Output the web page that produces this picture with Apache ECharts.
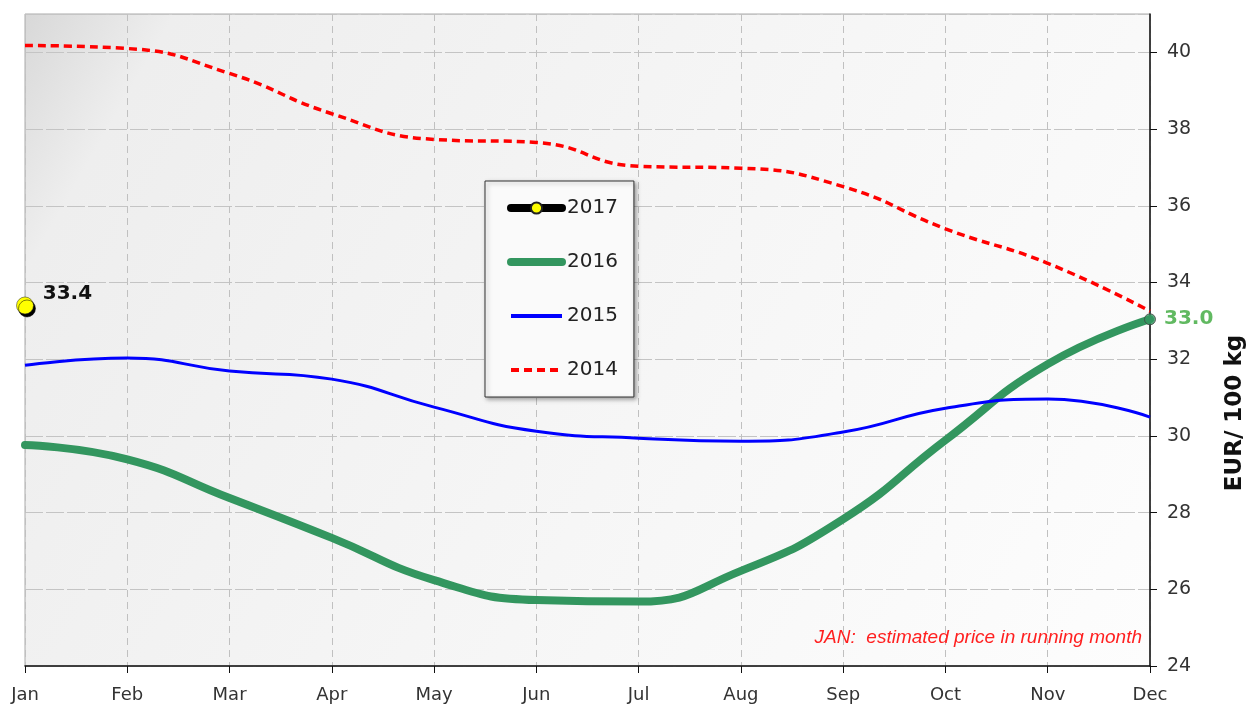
<!DOCTYPE html>
<html>
<head>
<meta charset="utf-8">
<script src="https://cdn.jsdelivr.net/npm/echarts@6/dist/echarts.min.js"></script>
<style>
  html, body { margin: 0; padding: 0; background: #fff; }
  #chart { width: 1249px; height: 706px; }
</style>
</head>
<body>
<div id="chart"></div>
<script>
// month categories
const months = ['Jan', 'Feb', 'Mar', 'Apr', 'May', 'Jun', 'Jul', 'Aug', 'Sep', 'Oct', 'Nov', 'Dec']
// prices, EUR / 100 kg
const y2017 = [33.4]
const y2016 = [29.76, 29.39, 28.38, 27.34, 26.24, 25.72, 25.68, 26.48, 27.83, 29.89, 31.87, 33.04]
const y2015 = [31.84, 32.03, 31.69, 31.48, 30.75, 30.12, 29.94, 29.86, 30.1, 30.72, 30.96, 30.49]
const y2014 = [40.18, 40.1, 39.45, 38.4, 37.73, 37.65, 37.03, 36.98, 36.5, 35.4, 34.5, 33.25]
const lastLabel = '33.0'

const myChart = echarts.init(document.getElementById('chart'))
const font = 'DejaVu Sans'
const option = {
  animation: false,
  title: {
    text: 'JAN:  estimated price in running month',
    right: 102,
    top: 623,
    textStyle: {
      color: '#ff2020',
      fontStyle: 'italic',
      fontWeight: 'normal',
      fontFamily: 'Liberation Sans',
      fontSize: 19,
    },
  },
  graphic: [
    {
      type: 'text',
      x: 1235,
      y: 413,
      rotation: Math.PI / 2,
      style: {
        text: 'EUR/ 100 kg',
        fill: '#111',
        font: 'bold 23px "DejaVu Sans"',
        align: 'center',
        verticalAlign: 'middle',
      },
    },
  ],
  legend: {
    data: [
      { name: '2017', lineStyle: { width: 8 } },
      { name: '2016', lineStyle: { width: 8 }, itemStyle: { opacity: 0 } },
      { name: '2015', lineStyle: { width: 4 }, itemStyle: { opacity: 0 } },
      { name: '2014', lineStyle: { width: 4 }, itemStyle: { opacity: 0 } },
    ],
    orient: 'vertical',
    left: 485,
    top: 181,
    padding: [17, 16, 17, 22],
    itemWidth: 51,
    itemHeight: 14,
    itemGap: 34,
    backgroundColor: '#fafafa',
    borderColor: '#333',
    borderWidth: 1,
    shadowColor: 'rgba(0,0,0,0.35)',
    shadowBlur: 4,
    shadowOffsetX: 2,
    shadowOffsetY: 2,
    textStyle: {
      color: '#222',
      fontFamily: font,
      fontSize: 20,
    },
  },
  grid: {
    left: 25,
    right: 99,
    top: 14,
    bottom: 40,
    outerBoundsMode: 'none',
    containLabel: false,
    show: true,
    borderColor: '#aaa',
    borderWidth: 1,
    backgroundColor: {
      type: 'linear',
      x: 0, y: 0, x2: 1, y2: 1,
      colorStops: [
        { offset: 0, color: '#d8d8d8' },
        { offset: 0.1, color: '#eeeeee' },
        { offset: 0.5, color: '#f5f5f5' },
        { offset: 1, color: '#fdfdfd' },
      ],
    },
  },
  xAxis: {
    type: 'category',
    boundaryGap: false,
    data: months,
    axisLine: { lineStyle: { color: '#111', width: 1.5 } },
    axisTick: { show: true, length: 7, lineStyle: { color: '#111' } },
    axisLabel: {
      color: '#333',
      fontFamily: font,
      fontSize: 18,
      margin: 20,
    },
    splitLine: {
      show: true,
      lineStyle: { color: '#c0c0c0', type: [7, 5] },
    },
  },
  yAxis: {
    type: 'value',
    position: 'right',
    min: 24,
    max: 41,
    interval: 2,
    axisLine: { show: true, lineStyle: { color: '#111', width: 1.5 } },
    axisTick: { show: true, length: 7, lineStyle: { color: '#111' } },
    axisLabel: {
      color: '#333',
      fontFamily: font,
      fontSize: 19,
      margin: 17,
      showMaxLabel: false,
    },
    splitLine: {
      show: true,
      lineStyle: { color: '#c4c4c4', type: [18, 3] },
    },
  },
  series: [
    {
      name: '2016',
      type: 'line',
      smooth: true,
      symbol: 'none',
      lineStyle: { color: '#33965f', width: 8, cap: 'round' },
      itemStyle: { color: '#33965f' },
      data: y2016,
    },
    {
      name: '2015',
      type: 'line',
      smooth: true,
      symbol: 'none',
      lineStyle: { color: '#0000ff', width: 3 },
      itemStyle: { color: '#0000ff' },
      data: y2015,
    },
    {
      name: '2014',
      type: 'line',
      smooth: true,
      symbol: 'none',
      lineStyle: { color: '#ff0000', width: 3.5, type: [8, 5] },
      itemStyle: { color: '#ff0000' },
      data: y2014,
    },
    {
      name: 'last2016',
      type: 'scatter',
      symbol: 'circle',
      symbolSize: 11,
      itemStyle: { color: '#33965f', borderColor: '#444', borderWidth: 1 },
      label: {
        show: true,
        position: 'right',
        distance: 8,
        formatter: lastLabel,
        color: '#3aa83a',
        fontFamily: font,
        fontWeight: 'bold',
        fontSize: 20,
      },
      data: [[months.length - 1, y2016[y2016.length - 1]]],
      z: 5,
    },
    {
      name: '2017',
      type: 'line',
      symbol: 'circle',
      symbolSize: 17,
      showSymbol: true,
      lineStyle: { color: '#000', width: 8, cap: 'round' },
      itemStyle: {
        color: '#ffff00',
        borderColor: '#222',
        borderWidth: 0.5,
        shadowColor: '#000',
        shadowBlur: 0,
        shadowOffsetX: 2,
        shadowOffsetY: 3,
      },
      label: {
        show: true,
        position: 'right',
        distance: 9,
        offset: [0, -12],
        color: '#111',
        fontFamily: font,
        fontWeight: 'bold',
        fontSize: 20,
      },
      data: y2017,
      z: 6,
    },
  ],
}
myChart.setOption(option)
</script>
</body>
</html>
